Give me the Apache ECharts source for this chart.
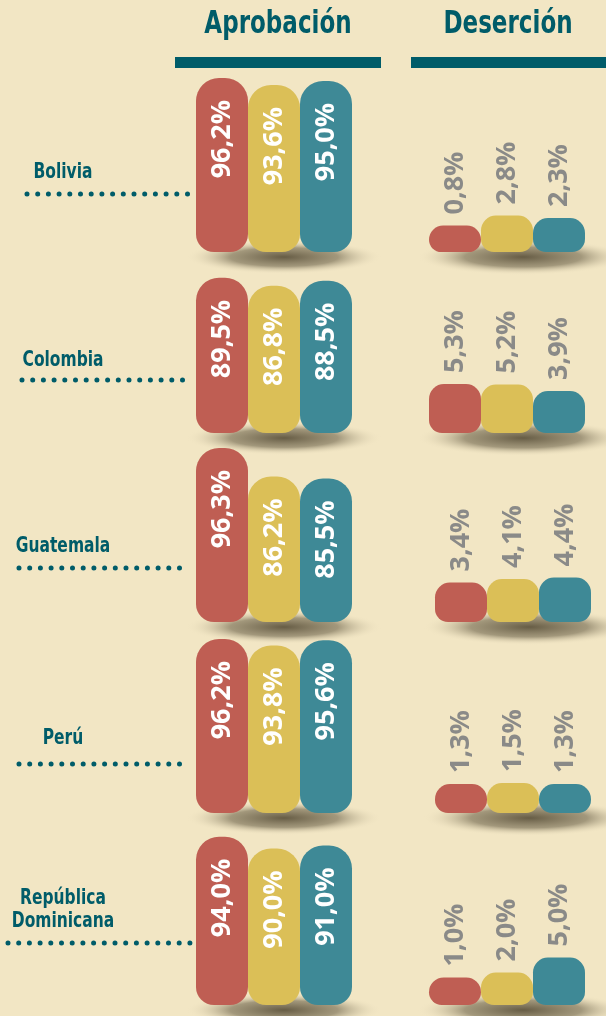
<!DOCTYPE html>
<html>
<head>
<meta charset="utf-8">
<script src="https://cdn.jsdelivr.net/npm/echarts@6/dist/echarts.min.js"></script>
<style>
html, body { margin: 0; padding: 0; background: #f2e6c4; }
#main { width: 606px; height: 1016px; }
</style>
</head>
<body>
<div id="main"></div>
<script>
// datos
var paises = ['Bolivia', 'Colombia', 'Guatemala', 'Perú', 'República\nDominicana'];
var barras = ['1', '2', '3'];
var aprobacion = [
    [96.2, 93.6, 95.0],
    [89.5, 86.8, 88.5],
    [96.3, 86.2, 85.5],
    [96.2, 93.8, 95.6],
    [94.0, 90.0, 91.0]
];
var desercion = [
    [0.8, 2.8, 2.3],
    [5.3, 5.2, 3.9],
    [3.4, 4.1, 4.4],
    [1.3, 1.5, 1.3],
    [1.0, 2.0, 5.0]
];
var colores = ['#bf5e53', '#dbbf57', '#3e8996'];

// layout
var teal = '#005c69';
var narrow = "'DejaVu Sans Condensed', 'Liberation Sans', sans-serif";
var baseY = [252, 433, 622, 813, 1005];
var labelY = [173, 361, 547, 739, 910];
var dotY = [194, 380, 568, 764, 943];
var dotX0 = [27, 22, 19, 19, 8];
var desLeft = [429, 429, 435, 435, 429];
var aprLeft = 196, barW = 52;
var aprH = 174, desH = 180;

function fmt(p) {
    return p.value.toFixed(1).replace('.', ',') + '%';
}

var grid = [], xAxis = [], yAxis = [], series = [];
var graphic = [];

graphic.push(
    { type: 'text', x: 278, y: 25, scaleX: 0.8, style: { text: 'Aprobación', fill: teal, font: 'bold 32px ' + narrow, align: 'center', verticalAlign: 'middle' } },
    { type: 'text', x: 508, y: 25, scaleX: 0.8, style: { text: 'Deserción', fill: teal, font: 'bold 32px ' + narrow, align: 'center', verticalAlign: 'middle' } },
    { type: 'rect', shape: { x: 175, y: 57, width: 206, height: 11 }, style: { fill: teal } },
    { type: 'rect', shape: { x: 411, y: 57, width: 195, height: 11 }, style: { fill: teal } }
);

// sombra eliptica: circulo con degradado radial, aplastado en vertical
function sombra(cx, cy, rx, ry) {
    return {
        type: 'circle', z: 0,
        x: cx, y: cy, scaleY: ry / rx,
        shape: { cx: 0, cy: 0, r: rx },
        style: {
            fill: new echarts.graphic.RadialGradient(0.5, 0.5, 0.5, [
                { offset: 0, color: 'rgba(95,85,62,0.95)' },
                { offset: 0.55, color: 'rgba(120,110,85,0.65)' },
                { offset: 1, color: 'rgba(242,230,196,0)' }
            ])
        }
    };
}

paises.forEach(function (pais, i) {
    var b = baseY[i];
    grid.push({ left: aprLeft, top: b - aprH, width: barW * 3, height: aprH });
    grid.push({ left: desLeft[i], top: b - desH, width: barW * 3, height: desH });

    xAxis.push({ type: 'category', gridIndex: i * 2, data: barras, show: false });
    xAxis.push({ type: 'category', gridIndex: i * 2 + 1, data: barras, show: false });
    yAxis.push({ type: 'value', gridIndex: i * 2, show: false, min: 36, max: 96 });
    yAxis.push({ type: 'value', gridIndex: i * 2 + 1, show: false, min: -4.5, max: 31.5, startValue: -4.5 });

    series.push({
        type: 'bar', xAxisIndex: i * 2, yAxisIndex: i * 2, z: 2,
        barCategoryGap: '0%',
        data: aprobacion[i].map(function (v, j) {
            return { value: v, itemStyle: { color: colores[j] } };
        }),
        itemStyle: { borderRadius: [23, 23, 18, 18] },
        label: {
            show: true, position: 'insideTop', distance: 22, rotate: 90,
            align: 'right', verticalAlign: 'middle',
            color: '#ffffff', fontSize: 27, fontWeight: 'bold', fontFamily: 'Open Sans',
            formatter: fmt
        }
    });
    series.push({
        type: 'bar', xAxisIndex: i * 2 + 1, yAxisIndex: i * 2 + 1, z: 2,
        barCategoryGap: '0%',
        data: desercion[i].map(function (v, j) {
            return { value: v, itemStyle: { color: colores[j] } };
        }),
        itemStyle: { borderRadius: [15, 15, 13, 13] },
        label: {
            show: true, position: 'top', distance: 11, rotate: 90,
            align: 'left', verticalAlign: 'middle',
            color: '#8a8a88', fontSize: 27, fontWeight: 'bold', fontFamily: 'Open Sans',
            formatter: fmt
        }
    });

    graphic.push(sombra(284, b + 5, 98, 17));
    graphic.push(sombra(desLeft[i] + 94, b + 5, 106, 18));

    // etiqueta del pais + linea de puntos
    graphic.push({
        type: 'text', z: 1,
        x: 63, y: labelY[i], scaleX: 0.82,
        style: {
            text: pais, fill: teal, font: 'bold 21px ' + narrow,
            align: 'center', verticalAlign: 'middle', lineHeight: 23
        }
    });
    graphic.push({
        type: 'line', z: 1,
        shape: { x1: dotX0[i], y1: dotY[i], x2: 190, y2: dotY[i] },
        style: { stroke: teal, lineWidth: 5, lineDash: [0, 10.7], lineCap: 'round' }
    });
});

var chart = echarts.init(document.getElementById('main'));
chart.setOption({
    backgroundColor: '#f2e6c4',
    animation: false,
    grid: grid,
    xAxis: xAxis,
    yAxis: yAxis,
    series: series,
    graphic: graphic
});
</script>
</body>
</html>
